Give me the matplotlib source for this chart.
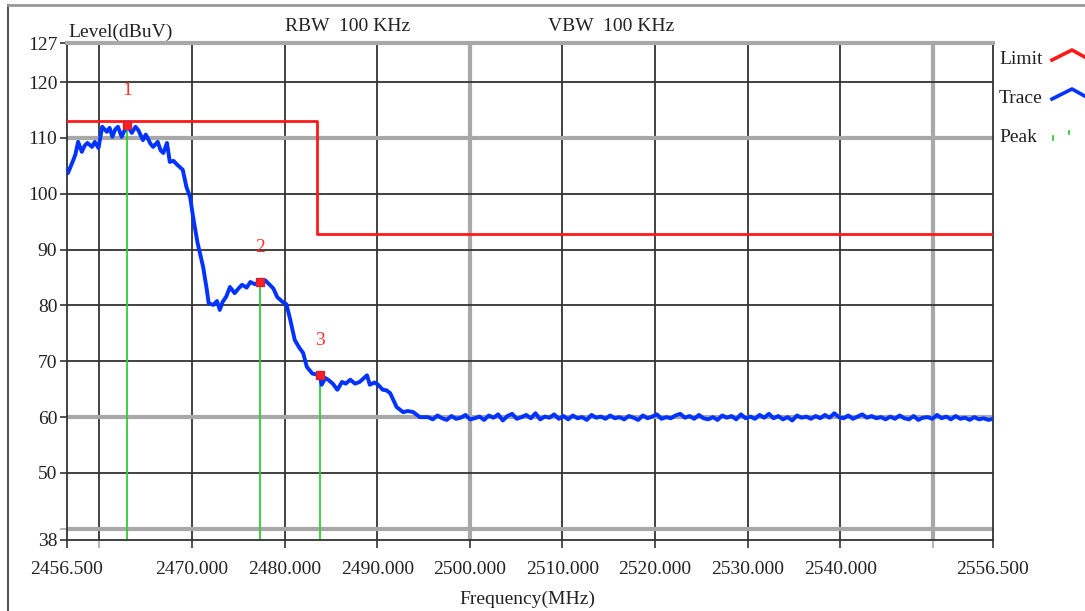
import numpy as np
import matplotlib
matplotlib.use("Agg")
import matplotlib.pyplot as plt
from matplotlib.lines import Line2D

# ---------------- data ----------------
rise_freq = [2456.5, 2456.6, 2457.1, 2457.4, 2457.7, 2458.1, 2458.4, 2458.7, 2459.2, 2459.5, 2459.9,
             2460.3, 2460.8, 2461.1, 2461.4, 2461.7, 2462.0, 2462.4, 2462.7, 2463.0, 2463.5, 2463.9,
             2464.2, 2464.7, 2465.0, 2465.2, 2465.5, 2465.8, 2466.3, 2466.6, 2466.9, 2467.3, 2467.6,
             2468.0, 2468.4, 2469.0, 2469.4,
             2469.8, 2470.1, 2470.6, 2471.2, 2471.6, 2471.8, 2472.3, 2472.7, 2473.0, 2473.3,
             2473.7, 2474.1, 2474.6, 2475.0, 2475.4, 2475.9, 2476.3, 2476.8, 2477.3, 2477.9, 2478.4,
             2478.8, 2479.2, 2479.8, 2480.2, 2480.6,
             2481.1, 2481.6, 2482.0, 2482.4, 2483.0, 2483.8, 2484.0, 2484.4, 2484.7, 2485.2, 2485.7,
             2486.2, 2486.6, 2487.1, 2487.6, 2488.1, 2488.5, 2488.9, 2489.2, 2489.7, 2490.1, 2490.6,
             2491.0, 2491.4, 2492.1, 2492.8, 2493.3, 2493.9, 2494.6, 2495.5]
rise_level = [104.3, 103.7, 105.7, 107.0, 109.3, 107.5, 108.6, 109.1, 108.4, 109.3, 108.2,
              112.0, 111.1, 111.8, 110.2, 111.5, 112.0, 110.2, 111.3, 112.3, 110.9, 112.0,
              111.4, 109.6, 110.6, 110.0, 109.0, 108.4, 109.3, 107.8, 107.3, 109.1, 105.7,
              105.9, 105.2, 104.3, 101.2,
              99.4, 96.0, 91.2, 86.9, 82.8, 80.4, 80.1, 80.8, 79.2, 80.6,
              81.6, 83.3, 82.2, 83.0, 83.7, 83.2, 84.2, 83.8, 84.2, 84.5, 83.7,
              83.0, 81.5, 80.6, 80.2, 77.5,
              73.8, 72.4, 71.5, 69.0, 67.8, 67.5, 65.8, 67.0, 66.7, 66.0, 64.9,
              66.3, 66.0, 66.7, 66.0, 66.3, 66.9, 67.5, 65.8, 66.2, 65.8, 64.9,
              64.8, 64.3, 61.8, 60.9, 61.1, 60.9, 60.0, 60.0]
flat_level = [59.6, 60.3, 59.8, 59.5, 60.2, 59.7, 59.9, 60.4, 59.6, 59.8, 60.1, 59.5,
              60.3, 59.9, 60.5, 59.4, 60.2, 60.6, 59.7, 60.0, 60.4, 59.8, 60.7, 59.6,
              60.1, 59.9, 60.5, 59.7, 60.2, 59.6, 60.3, 59.8, 60.0, 59.5, 60.4, 59.9,
              60.1, 59.7, 60.3, 59.8, 60.0, 59.6, 60.2, 59.9, 59.5, 60.3, 59.8, 60.1,
              60.5, 59.7, 60.0, 59.8, 60.3, 60.6, 59.9, 60.2, 59.7, 60.4, 59.8, 59.6,
              60.0, 59.5, 60.3, 59.9, 60.2, 59.6, 60.5, 59.8, 60.1, 59.7, 60.4, 59.9,
              60.6, 59.8, 60.2, 59.6, 60.0, 59.4, 60.3, 59.9, 60.1, 59.7, 60.2, 59.8,
              60.4, 59.9, 60.7, 60.0, 59.8, 60.3, 59.7, 60.1, 60.5, 59.9, 60.2, 59.8,
              60.0, 59.6, 60.1, 59.7, 60.3, 59.8, 59.6, 60.2, 59.5, 59.9, 60.0, 59.7,
              60.4, 59.8, 60.1, 59.6, 60.2, 59.7, 59.9, 59.5, 60.0, 59.6, 59.8, 59.5,
              59.7]
limit_freq = [2456.5, 2483.5, 2483.5, 2556.5]
limit_level = [113.0, 113.0, 92.8, 92.8]
peak_freq = [2463.0, 2477.3, 2483.8]
peak_level = [112.3, 84.2, 67.5]
peak_labels = ["1", "2", "3"]

y_ticks = [127, 120, 110, 100, 90, 80, 70, 60, 50, 38]
x_ticks = [2456.5, 2470, 2480, 2490, 2500, 2510, 2520, 2530, 2540, 2556.5]
x_tick_labels = ["2456.500", "2470.000", "2480.000", "2490.000", "2500.000",
                 "2510.000", "2520.000", "2530.000", "2540.000", "2556.500"]
x_grid = [2460, 2470, 2480, 2490, 2500, 2510, 2520, 2530, 2540, 2550]
x_grid_major = [2500, 2550]
y_grid = [120, 110, 100, 90, 80, 70, 60, 50, 40]
y_grid_major = [110, 60, 40]

# ---------------- figure ----------------
plt.rcParams['font.family'] = ['Liberation Serif', 'DejaVu Serif']
FS = 14
fig = plt.figure(figsize=(10.85, 6.11), dpi=100)
ax = fig.add_axes([67/1085, 1-540/611, (993-67)/1085, (540-43)/611])
ax.set_xlim(2456.5, 2556.5)
ax.set_ylim(38, 127)

dark = '#333333'
grey = '#a8a8a8'
for x in x_grid:
    if x in x_grid_major:
        ax.axvline(x, color=grey, lw=3.0, zorder=1)
    else:
        ax.axvline(x, color=dark, lw=1.3, zorder=1)
for y in y_grid:
    if y in y_grid_major:
        ax.axhline(y, color=grey, lw=3.0, zorder=1)
    else:
        ax.axhline(y, color=dark, lw=1.3, zorder=1)

flat_freq = np.linspace(2496.0, 2556.5, len(flat_level))
trace_f = np.concatenate([rise_freq, flat_freq])
trace_l = np.concatenate([rise_level, flat_level])
ax.plot(trace_f, trace_l, color='#0033ff', lw=2.8, zorder=3, solid_joinstyle='round')
ax.plot(limit_freq, limit_level, color='#ff1a1a', lw=2.0, zorder=4)
ax.vlines(peak_freq, 38, peak_level, color='#33cc33', lw=1.3, zorder=2)
ax.plot(peak_freq, peak_level, 's', color='#ff2020', ms=6, mec='#cc2040', zorder=5)
for f, l, t in zip(peak_freq, peak_level, peak_labels):
    ax.annotate(t, (f, l), xytext=(0, 19), textcoords='offset points',
                ha='center', va='bottom', color='#ff3030', fontsize=FS)

for s in ['left', 'bottom', 'right']:
    ax.spines[s].set_color(dark)
    ax.spines[s].set_linewidth(1.3)
ax.spines['top'].set_color(grey)
ax.spines['top'].set_linewidth(3.0)

ax.set_yticks(y_ticks)
ax.set_yticklabels([str(v) for v in y_ticks])
ax.set_xticks(x_ticks)
ax.set_xticklabels(x_tick_labels)
ax.set_xticks([2460, 2550], minor=True)
ax.set_yticks([40], minor=True)
ax.tick_params(axis='y', which='both', direction='out', length=5, width=1.2,
               color=dark, labelsize=FS, pad=2)
ax.tick_params(axis='x', which='both', direction='out', length=6, width=1.2,
               color=dark, labelsize=FS, pad=9)
ax.tick_params(axis='y', which='minor', color=grey)
ax.tick_params(axis='x', which='minor', color=grey)
for lbl in ax.get_xticklabels() + ax.get_yticklabels():
    lbl.set_color('#222222')

fig.text(68/1085, 1-37/611, "Level(dBuV)", fontsize=FS, ha='left', va='baseline', color='#222222')
fig.text(285/1085, 1-31/611, "RBW  100 KHz", fontsize=FS, ha='left', va='baseline', color='#222222')
fig.text(548/1085, 1-31/611, "VBW  100 KHz", fontsize=FS, ha='left', va='baseline', color='#222222')
fig.text(527/1085, 1-604/611, "Frequency(MHz)", fontsize=FS, ha='center', va='baseline', color='#222222')

# legend on the right
leg_items = [("Limit", 64, '#ff1a1a', 'solid'), ("Trace", 103, '#0033ff', 'solid'),
             ("Peak", 142, '#33cc33', 'dot')]
for name, yb, col, kind in leg_items:
    fig.text(999/1085, 1-yb/611, name, fontsize=FS, ha='left', va='baseline', color='#222222')
    if kind == 'solid':
        xs = np.array([1052, 1072, 1090]) / 1085
        ys = 1 - np.array([yb - 4, yb - 14, yb - 4]) / 611
        fig.add_artist(Line2D(xs, ys, color=col, lw=2.6))
    else:
        fig.add_artist(Line2D([1053/1085, 1053/1085], [1-(yb-2)/611, 1-(yb-6)/611], color=col, lw=1.3))
        fig.add_artist(Line2D([1069/1085, 1069/1085], [1-(yb-8)/611, 1-(yb-11)/611], color=col, lw=1.3))

# outer frame
fig.add_artist(Line2D([8/1085, 8/1085], [0, 1-5/611], color='#555555', lw=1.5))
fig.add_artist(Line2D([8/1085, 1], [1-5/611, 1-5/611], color='#999999', lw=2.0))

fig.savefig("out.png", dpi=100)
